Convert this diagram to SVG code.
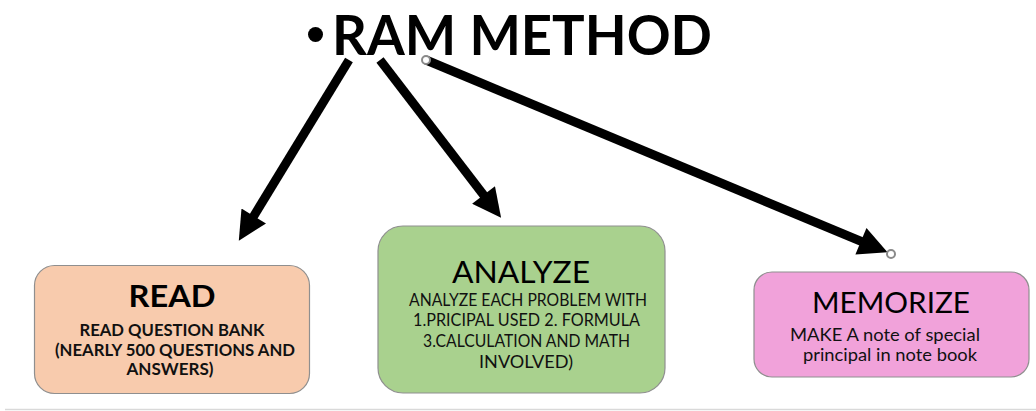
<svg xmlns="http://www.w3.org/2000/svg" width="1036" height="411" viewBox="0 0 1036 411">
<style>
  .title { font-family: Lato, "Open Sans", "Liberation Sans", sans-serif; font-weight: bold; font-size: 55px; fill: #000; }
  .head { font-family: Lato, "Open Sans", "Liberation Sans", sans-serif; text-anchor: middle; fill: #000; }
  .sub { font-family: Lato, "Open Sans", "Liberation Sans", sans-serif; text-anchor: middle; font-size: 16.3px; fill: #111; }
  .box { stroke: #8f8f8f; stroke-width: 1.2; }
  .conn { stroke: #000; stroke-width: 9; fill: none; }
  .handle { fill: #fff; stroke: #8a8a8a; stroke-width: 2; }
</style>
<defs>
  <marker id="ah" viewBox="0 0 10 10" refX="1" refY="5" markerWidth="3.4" markerHeight="3.2" markerUnits="strokeWidth" orient="auto">
    <path d="M0,0 L10,5 L0,10 z" fill="#000"/>
  </marker>
</defs>
<rect width="1036" height="411" fill="#fff"/>
<line x1="5" y1="409.5" x2="1036" y2="409.5" stroke="#d9d9d9" stroke-width="1.5"/>

<g id="title">
  <circle cx="315.5" cy="34.5" r="7.5" fill="#000"/>
  <text class="title" x="332" y="55" textLength="380" lengthAdjust="spacingAndGlyphs">RAM METHOD</text>
</g>

<g id="connectors">
  <line class="conn" x1="349" y1="60" x2="252.3" y2="218.5" marker-end="url(#ah)"/>
  <line class="conn" x1="380" y1="60" x2="485.3" y2="197.2" marker-end="url(#ah)"/>
  <line class="conn" x1="426" y1="60" x2="863.6" y2="242.4" marker-end="url(#ah)"/>
  <circle class="handle" cx="426" cy="60" r="4"/>
  <circle class="handle" cx="891" cy="254" r="4"/>
</g>

<g id="read">
  <rect class="box" x="34.5" y="265.5" width="275" height="128" rx="20" fill="#F8CBAD"/>
  <text class="head" x="172" y="307" font-size="31" font-weight="bold" textLength="87" lengthAdjust="spacingAndGlyphs">READ</text>
  <text class="sub" x="172" y="336" font-weight="bold" textLength="185" lengthAdjust="spacingAndGlyphs">READ QUESTION BANK</text>
  <text class="sub" x="175" y="355.7" font-weight="bold" textLength="240" lengthAdjust="spacingAndGlyphs">(NEARLY 500 QUESTIONS AND</text>
  <text class="sub" x="170" y="375.4" font-weight="bold" textLength="87" lengthAdjust="spacingAndGlyphs">ANSWERS)</text>
</g>

<g id="analyze">
  <rect class="box" x="378" y="226" width="287" height="167" rx="25" fill="#A9D18E"/>
  <text class="head" x="521" y="283" font-size="30" textLength="138" lengthAdjust="spacingAndGlyphs">ANALYZE</text>
  <text class="sub" x="528" y="306" textLength="238" lengthAdjust="spacingAndGlyphs">ANALYZE EACH PROBLEM WITH</text>
  <text class="sub" x="526.5" y="326" textLength="227" lengthAdjust="spacingAndGlyphs">1.PRICIPAL USED 2. FORMULA</text>
  <text class="sub" x="526.5" y="347" textLength="207" lengthAdjust="spacingAndGlyphs">3.CALCULATION AND MATH</text>
  <text class="sub" x="526" y="368" textLength="94" lengthAdjust="spacingAndGlyphs">INVOLVED)</text>
</g>

<g id="memorize">
  <rect class="box" x="754" y="272" width="275" height="105" rx="18" fill="#F1A2DA"/>
  <text class="head" x="891" y="313" font-size="28" textLength="158" lengthAdjust="spacingAndGlyphs">MEMORIZE</text>
  <text class="sub" x="885" y="341" textLength="190" lengthAdjust="spacingAndGlyphs">MAKE A note of special</text>
  <text class="sub" x="890" y="360.7" textLength="174" lengthAdjust="spacingAndGlyphs">principal in note book</text>
</g>
</svg>
